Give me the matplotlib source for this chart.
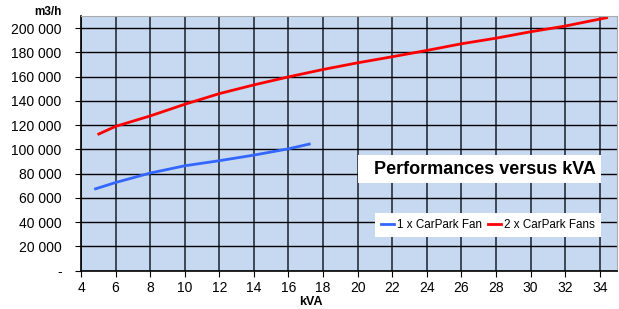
import matplotlib
matplotlib.use("Agg")
import matplotlib.pyplot as plt
from matplotlib.patches import Rectangle

plt.rcParams['font.family'] = ['Liberation Sans', 'DejaVu Sans']

fan1_x = [4.84, 6, 8, 10, 12, 14, 16, 17.2]
fan1_y = [67500, 72700, 80500, 86500, 90700, 95300, 100500, 104400]
fan2_x = [5.03, 6, 8, 10, 12, 14, 16, 18, 20, 22, 24, 26, 28, 30, 32, 34.4]
fan2_y = [112700, 119000, 127600, 137200, 146000, 153200, 159800, 165900,
          171400, 176400, 181600, 187100, 191700, 197000, 201700, 208600]
x_ticks = list(range(4, 35, 2))
y_ticks = list(range(0, 200001, 20000))
y_labels = ['-'] + [f"{v//1000} 000" for v in y_ticks[1:]]

W, H = 619, 309
fig = plt.figure(figsize=(W/100, H/100), dpi=100)
L, R, T, B = 81, 617, 16, 270.7
ax = fig.add_axes([L/W, 1 - B/H, (R-L)/W, (B-T)/H])
ax.set_facecolor('#C6D9F0')
ax.plot(fan1_x, fan1_y, color='#3366FF', lw=2, label='1 x CarPark Fan')
ax.plot(fan2_x, fan2_y, color='#FF0000', lw=2, label='2 x CarPark Fans')
ax.set_xlim(4, 35)
ax.set_ylim(0, 210000)
ax.set_xticks(x_ticks)
ax.set_yticks(y_ticks)
ax.set_yticklabels(y_labels)
ax.tick_params(labelsize=10, length=4, color='black')
ax.tick_params(axis='y', pad=10)
ax.grid(True, axis='y', color='black', lw=1)
ax.grid(True, axis='x', color='#2a2f3a', lw=1.2)
ax.set_axisbelow(True)
for s in ['top', 'right']:
    ax.spines[s].set_color('#aaaaaa')
for s in ['left', 'bottom']:
    ax.spines[s].set_color('black')
    ax.spines[s].set_linewidth(1.2)
fig.text(311/W, 1 - 302/H, 'kVA', fontsize=9, fontweight='bold', ha='center', va='center')
fig.text(62/W, 1 - 12/H, 'm3/h', fontsize=8.5, fontweight='bold', ha='right', va='center')

# title box
fig.patches.append(Rectangle((358/W, 1 - 183/H), (601-358)/W, (183-155)/H,
                             transform=fig.transFigure, fc='white', ec='none', zorder=5))
fig.text(596/W, 1 - 169/H, 'Performances versus kVA', fontsize=13, fontweight='bold',
         ha='right', va='center', zorder=6)

leg = ax.legend(loc='lower right', bbox_to_anchor=((601-L)/(R-L), (B-237)/(B-T)),
                borderaxespad=0, ncol=2, fontsize=8.4,
                frameon=True, fancybox=False, edgecolor='none', framealpha=1,
                handlelength=1.1, handletextpad=0.3, columnspacing=0.5,
                borderpad=0.5)
fig.savefig('out.png', dpi=100)
